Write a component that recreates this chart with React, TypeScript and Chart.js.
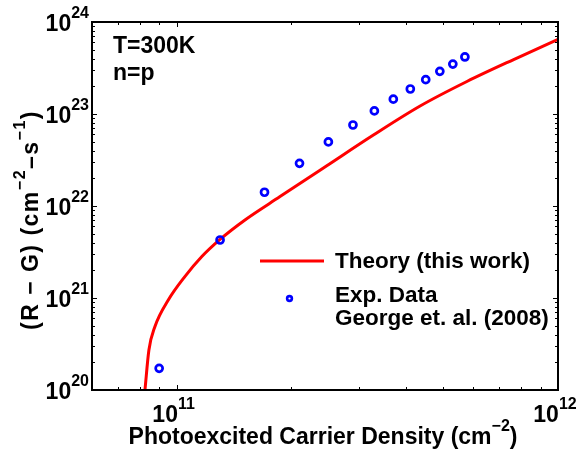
import React, { useEffect, useRef } from 'react';
import { Chart, registerables } from 'chart.js';

Chart.register(...registerables);

// ---- data ----
const theoryDensity = [8.26e10, 8.46e10, 8.77e10, 9.51e10, 1.051e11, 1.163e11, 1.3e11, 1.511e11, 1.867e11, 2.476e11, 3.281e11, 4.35e11, 5.77e11, 7.65e11, 1.0e12];
const theoryRate = [1.0e20, 2.72e20, 4.87e20, 9.51e20, 1.71e21, 2.81e21, 4.34e21, 7.06e21, 1.265e22, 2.74e22, 5.91e22, 1.222e23, 2.256e23, 3.91e23, 6.46e23];
const expDensity = [0.9e11, 1.3e11, 1.7e11, 2.1e11, 2.5e11, 2.9e11, 3.3e11, 3.7e11, 4.1e11, 4.5e11, 4.9e11, 5.3e11, 5.7e11];
const expRate = [1.72e20, 4.27e21, 1.41e22, 2.91e22, 4.97e22, 7.59e22, 1.08e23, 1.45e23, 1.87e23, 2.36e23, 2.91e23, 3.49e23, 4.17e23];

const xMajorExponents = [11, 12];
const yMajorExponents = [20, 21, 22, 23, 24];
const xMinorTicks = [7e10, 8e10, 9e10, 2e11, 3e11, 4e11, 5e11, 6e11, 7e11, 8e11, 9e11];
const yMinorMultipliers = [2, 3, 4, 5, 6, 7, 8, 9];

const theoryLabel = 'Theory (this work)';
const expLabel = ['Exp. Data', 'George et. al. (2008)'];
const annotationLines = ['T=300K', 'n=p'];
const xTitleParts = [
  { t: 'Photoexcited Carrier Density (cm', sup: false },
  { t: '\u22122', sup: true },
  { t: ')', sup: false },
];
const yTitleParts = [
  { t: '(R \u2212 G) (cm', sup: false },
  { t: '\u22122', sup: true },
  { t: '\u2013s', sup: false },
  { t: '\u22121', sup: true },
  { t: ')', sup: false },
];

const FONT = "'Liberation Sans', Arial, Helvetica, sans-serif";
const fnt = (s: number) => `bold ${s}px ${FONT}`;
const MAIN = 23;
const LEGEND = 22.5;
const SUP = 16;
const RISE = 13;

type Part = { t: string; sup: boolean };

function drawRich(ctx: CanvasRenderingContext2D, parts: Part[], x: number, y: number, align: 'left' | 'center' | 'right') {
  const widths = parts.map((p) => {
    ctx.font = fnt(p.sup ? SUP : MAIN);
    return ctx.measureText(p.t).width;
  });
  const total = widths.reduce((a, b) => a + b, 0);
  let cx = align === 'left' ? x : align === 'center' ? x - total / 2 : x - total;
  ctx.textAlign = 'left';
  ctx.textBaseline = 'alphabetic';
  parts.forEach((p, i) => {
    ctx.font = fnt(p.sup ? SUP : MAIN);
    ctx.fillText(p.t, cx, p.sup ? y - RISE : y);
    cx += widths[i];
  });
}

const decorPlugin = {
  id: 'decor',
  afterDatasetsDraw(chart: any) {
    const ctx: CanvasRenderingContext2D = chart.ctx;
    const { left, right, top, bottom } = chart.chartArea;
    const xs = chart.scales.x;
    const ys = chart.scales.y;
    ctx.save();
    ctx.strokeStyle = '#000';
    ctx.fillStyle = '#000';
    // ticks
    ctx.lineWidth = 1;
    const MAJ = 5;
    const MIN = 3;
    const vTick = (px: number, len: number) => {
      ctx.beginPath();
      ctx.moveTo(px, bottom);
      ctx.lineTo(px, bottom - len);
      ctx.moveTo(px, top);
      ctx.lineTo(px, top + len);
      ctx.stroke();
    };
    const hTick = (py: number, len: number) => {
      ctx.beginPath();
      ctx.moveTo(left, py);
      ctx.lineTo(left + len, py);
      ctx.moveTo(right, py);
      ctx.lineTo(right - len, py);
      ctx.stroke();
    };
    xMinorTicks.forEach((v) => vTick(Math.round(xs.getPixelForValue(v)) + 0.5, MIN));
    xMajorExponents.forEach((e) => vTick(Math.round(xs.getPixelForValue(Math.pow(10, e))) + 0.5, MAJ));
    yMajorExponents.forEach((e, i) => {
      hTick(Math.round(ys.getPixelForValue(Math.pow(10, e))) + 0.5, MAJ);
      if (i < yMajorExponents.length - 1) {
        yMinorMultipliers.forEach((m) => hTick(Math.round(ys.getPixelForValue(m * Math.pow(10, e))) + 0.5, MIN));
      }
    });
    // frame
    ctx.lineWidth = 2;
    ctx.strokeRect(left, top, right - left, bottom - top);

    // tick labels
    yMajorExponents.forEach((e) => {
      const py = ys.getPixelForValue(Math.pow(10, e));
      drawRich(ctx, [{ t: '10', sup: false }, { t: String(e), sup: true }], left - 3, py + 9, 'right');
    });
    xMajorExponents.forEach((e) => {
      const px = xs.getPixelForValue(Math.pow(10, e));
      drawRich(ctx, [{ t: '10', sup: false }, { t: String(e), sup: true }], px - 3, bottom + 32, 'center');
    });

    // axis titles
    drawRich(ctx, xTitleParts, (left + right) / 2 - 2, bottom + 54, 'center');
    ctx.save();
    ctx.translate(left - 54.5, 220);
    ctx.rotate(-Math.PI / 2);
    (ctx as any).letterSpacing = '1.5px';
    drawRich(ctx, yTitleParts, 0, 0, 'center');
    (ctx as any).letterSpacing = '0px';
    ctx.restore();

    // annotation
    ctx.font = fnt(MAIN);
    ctx.textAlign = 'left';
    ctx.fillText(annotationLines[0], left + 21, top + 31);
    ctx.fillText(annotationLines[1], left + 21, top + 58);

    // legend
    const lx = left + 168;
    ctx.strokeStyle = '#ff0000';
    ctx.lineWidth = 3;
    ctx.beginPath();
    ctx.moveTo(lx, top + 239);
    ctx.lineTo(lx + 64, top + 239);
    ctx.stroke();
    ctx.strokeStyle = '#0000ff';
    ctx.lineWidth = 2.6;
    ctx.beginPath();
    ctx.arc(lx + 29.5, top + 276.5, 2.4, 0, Math.PI * 2);
    ctx.stroke();
    ctx.fillStyle = '#000';
    ctx.font = fnt(LEGEND);
    ctx.fillText(theoryLabel, lx + 75, top + 246);
    ctx.fillText(expLabel[0], lx + 75, top + 280);
    ctx.fillText(expLabel[1], lx + 75, top + 303);
    ctx.restore();
  },
};

export default function App() {
  const ref = useRef<HTMLCanvasElement | null>(null);
  useEffect(() => {
    if (!ref.current) return;
    const chart = new Chart(ref.current, {
      type: 'line',
      data: {
        datasets: [
          {
            label: expLabel.join(' '),
            data: expDensity.map((x, i) => ({ x, y: expRate[i] })),
            showLine: false,
            pointStyle: 'circle',
            pointRadius: 3.5,
            pointBorderWidth: 2.7,
            pointBorderColor: '#0000ff',
            pointBackgroundColor: 'rgba(0,0,0,0)',
            borderColor: '#0000ff',
          } as any,
          {
            label: theoryLabel,
            data: theoryDensity.map((x, i) => ({ x, y: theoryRate[i] })),
            borderColor: '#ff0000',
            borderWidth: 3,
            pointRadius: 0,
            cubicInterpolationMode: 'monotone',
            fill: false,
          } as any,
        ],
      },
      options: {
        responsive: false,
        devicePixelRatio: 1,
        animation: false,
        layout: { padding: { left: 92, right: 22, top: 22, bottom: 61 } },
        plugins: { legend: { display: false }, tooltip: { enabled: false } },
        scales: {
          x: { type: 'logarithmic', min: 6e10, max: 1e12, display: false },
          y: { type: 'logarithmic', min: 1e20, max: 1e24, display: false },
        },
      } as any,
      plugins: [decorPlugin],
    });
    return () => chart.destroy();
  }, []);
  return (
    <div style={{ position: 'fixed', left: 0, top: 0, width: 580, height: 451, background: '#fff' }}>
      <canvas ref={ref} width={580} height={451} />
    </div>
  );
}
